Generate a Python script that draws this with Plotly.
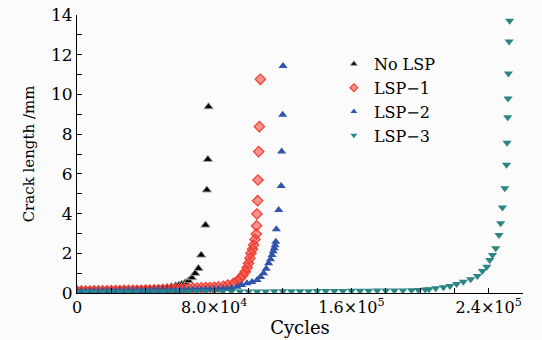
import plotly.graph_objects as go

# ---- data ----
nolsp_x = [0, 2500, 5000, 7500, 10000, 12500, 15000, 17500, 20000, 22500, 25000, 27500,
           30000, 32500, 35000, 37500, 40000, 42500, 45000, 47500, 50000, 52500, 55000, 57500,
           59500, 61100, 63100, 65000, 67000, 68900, 70800, 72400, 74900, 75700, 76300, 76700]
nolsp_y = [0.12, 0.12, 0.12, 0.12, 0.13, 0.13, 0.13, 0.13, 0.14, 0.14, 0.15, 0.15,
           0.16, 0.16, 0.17, 0.18, 0.19, 0.20, 0.21, 0.23, 0.25, 0.28, 0.32, 0.37,
           0.40, 0.44, 0.52, 0.62, 0.77, 0.99, 1.24, 1.91, 3.42, 5.19, 6.73, 9.38]

lsp1_x = [0, 2500, 5000, 7500, 10000, 12500, 15000, 17500, 20000, 22500, 25000, 27500,
          30000, 32500, 35000, 37500, 40000, 42500, 45000, 47500, 50000, 52500, 55000, 57500,
          60000, 62500, 65000, 67500, 70000, 72500, 75000, 77500, 80000, 82500,
          85400, 88000, 91300, 93500, 95200, 96700, 98100, 99200, 100000, 100800, 101400,
          102300, 103000, 103800, 104500, 104700, 104900, 105300, 105500, 105900, 106300, 106900]
lsp1_y = [0.10, 0.10, 0.10, 0.10, 0.11, 0.11, 0.11, 0.11, 0.12, 0.12, 0.12, 0.13,
          0.13, 0.13, 0.14, 0.14, 0.15, 0.15, 0.16, 0.16, 0.17, 0.18, 0.19, 0.20,
          0.21, 0.22, 0.23, 0.24, 0.25, 0.26, 0.27, 0.28, 0.29, 0.31,
          0.34, 0.40, 0.49, 0.60, 0.74, 0.90, 1.07, 1.28, 1.50, 1.75, 2.00,
          2.20, 2.42, 2.70, 2.97, 3.39, 3.98, 4.65, 5.69, 7.12, 8.38, 10.76]

lsp2_x = [0, 2500, 5000, 7500, 10000, 12500, 15000, 17500, 20000, 22500, 25000, 27500,
          30000, 32500, 35000, 37500, 40000, 42500, 45000, 47500, 50000, 52500, 55000, 57500,
          60000, 62500, 65000, 67500, 70000, 72500, 75000, 77500, 80000, 82500, 85000,
          87400, 90000, 93300, 96000, 99100, 102000, 105000, 107000, 108800, 110300, 111700,
          112800, 113700, 114400, 115000, 115500, 115900, 116200, 117600, 119000, 119300,
          119900, 120100]
lsp2_y = [0.08, 0.08, 0.08, 0.08, 0.08, 0.08, 0.09, 0.09, 0.09, 0.09, 0.09, 0.10,
          0.10, 0.10, 0.10, 0.11, 0.11, 0.11, 0.12, 0.12, 0.12, 0.13, 0.13, 0.13,
          0.14, 0.14, 0.15, 0.15, 0.16, 0.16, 0.17, 0.17, 0.18, 0.19, 0.20,
          0.20, 0.25, 0.32, 0.40, 0.49, 0.56, 0.65, 0.80, 0.99, 1.22, 1.50,
          1.70, 1.91, 2.10, 2.25, 2.40, 2.58, 3.21, 4.18, 5.39, 7.13,
          8.98, 11.43]

lsp3_x = [0, 5000, 10000, 15000, 20000, 25000, 30000, 35000, 40000, 45000, 50000, 55000,
          60000, 65000, 70000, 75000, 80000, 85000, 90000, 95000, 100000, 105000, 110000,
          115000, 120000, 125000, 130000, 135000, 140000, 145000, 150000, 155000, 160000,
          165000, 170000, 175000, 180000, 185000, 190000, 195000,
          199000, 203000, 205200, 209100, 213600, 217400, 221300, 225200, 229500, 233400,
          236300, 238900, 240600, 242200, 244100, 246000, 247000, 248000, 249400, 250400,
          250700, 251100, 251300, 251500, 251900, 252200]
lsp3_y = [0.06, 0.06, 0.06, 0.06, 0.06, 0.06, 0.06, 0.06, 0.07, 0.07, 0.07, 0.07,
          0.07, 0.07, 0.07, 0.07, 0.08, 0.08, 0.08, 0.08, 0.08, 0.08, 0.08,
          0.09, 0.09, 0.09, 0.09, 0.09, 0.10, 0.10, 0.10, 0.10, 0.11,
          0.11, 0.11, 0.12, 0.12, 0.13, 0.13, 0.14,
          0.15, 0.17, 0.19, 0.24, 0.29, 0.35, 0.45, 0.57, 0.69, 0.86,
          1.11, 1.32, 1.66, 1.91, 2.25, 2.92, 3.51, 4.31, 5.27, 6.46,
          7.57, 8.85, 9.80, 11.06, 12.67, 13.71]

series_names = ["No LSP", "LSP−1", "LSP−2", "LSP−3"]

x_tick_vals = [0, 20000, 40000, 60000, 80000, 100000, 120000, 140000, 160000, 180000,
               200000, 220000, 240000, 260000]
x_tick_text = ["0", "", "", "", "8.0×10<sup>4</sup>", "", "", "", "1.6×10<sup>5</sup>", "",
               "", "", "2.4×10<sup>5</sup>", ""]
y_tick_vals = list(range(0, 15))
y_tick_text = [str(v) if v % 2 == 0 else "" for v in y_tick_vals]

FONT = "DejaVu Serif"

styles = [
    dict(symbol="triangle-up", color="black", line=dict(color="#9a9a9a", width=1)),
    dict(symbol="diamond", color="rgba(240,60,50,0.55)", line=dict(color="#f03c32", width=1.2)),
    dict(symbol="triangle-up", color="#2e55aa", line=dict(width=0)),
    dict(symbol="triangle-down", color="#2a8585", line=dict(width=0)),
]
data = [(nolsp_x, nolsp_y), (lsp1_x, lsp1_y), (lsp2_x, lsp2_y), (lsp3_x, lsp3_y)]

fig = go.Figure()
for (xs, ys), st, nm in zip(data, styles, series_names):
    fig.add_trace(go.Scatter(x=xs, y=ys, mode="markers", name=nm, showlegend=False,
                             marker=dict(size=8, **st)))
# legend entries with the small legend symbols of the reference
for st, nm in zip(styles, series_names):
    fig.add_trace(go.Scatter(x=[None], y=[None], mode="markers", name=nm, showlegend=True,
                             marker=dict(size=6, **st)))

fig.update_layout(
    width=542, height=340,
    margin=dict(l=77, r=19, t=15, b=47),
    paper_bgcolor="#fbfbfb", plot_bgcolor="#fbfbfb",
    font=dict(family=FONT, size=17, color="black"),
    showlegend=True,
    legend=dict(x=0.576, y=0.885, xanchor="left", yanchor="top",
                bgcolor="rgba(0,0,0,0)", font=dict(family=FONT, size=16),
                itemsizing="trace", tracegroupgap=0),
    xaxis=dict(range=[0, 260000], tickmode="array", tickvals=x_tick_vals,
               ticktext=x_tick_text, ticks="inside", ticklen=5, tickcolor="black",
               showline=True, linecolor="black", linewidth=1, showgrid=False,
               zeroline=False, automargin=False, tickfont=dict(family=FONT, size=16),
               title=dict(text="Cycles", font=dict(family=FONT, size=18), standoff=2)),
    yaxis=dict(range=[0, 14], tickmode="array", tickvals=y_tick_vals,
               ticktext=y_tick_text, ticks="inside", ticklen=5, tickcolor="black",
               showline=True, linecolor="black", linewidth=1, showgrid=False,
               zeroline=False, automargin=False, tickfont=dict(family=FONT, size=17),
               ticklabeloverflow="allow",
               title=dict(text="Crack length /mm", font=dict(family=FONT, size=15), standoff=12)),
)

fig.write_html("out.html", config={"displayModeBar": False},
               post_script="document.body.style.margin='0';")
